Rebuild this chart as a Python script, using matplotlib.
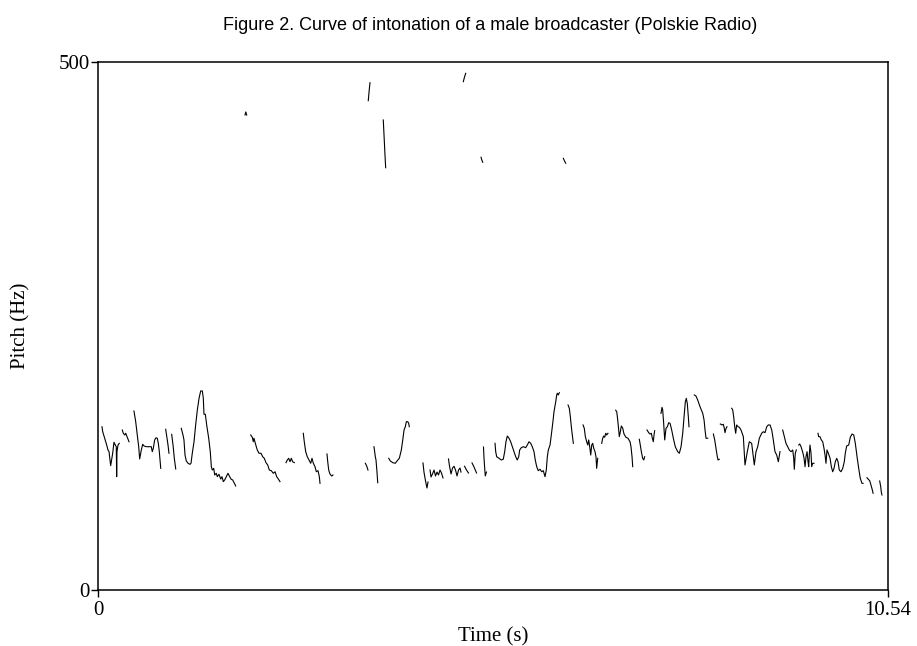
import matplotlib
matplotlib.use("Agg")
import matplotlib.pyplot as plt

plt.rcParams['font.family'] = 'serif'
plt.rcParams['font.serif'] = ['Liberation Serif', 'DejaVu Serif']

T_MAX = 10.54
F_MAX = 500

# pitch track, one pair of lists per voiced stretch (time s, pitch Hz)
t01 = [0.053, 0.063, 0.089, 0.116, 0.133, 0.147, 0.169, 0.196, 0.213, 0.231, 0.244, 0.249, 0.253, 0.267, 0.284]
f01 = [154.6, 149.9, 143.7, 137.3, 132.6, 131.0, 117.7, 129.5, 139.9, 137.3, 135.7, 107.3, 131.0, 137.3, 138.9]
t02 = [0.324, 0.338, 0.356, 0.370, 0.387, 0.414]
f02 = [151.5, 148.4, 146.8, 148.4, 145.2, 140.4]
t03 = [0.480, 0.503, 0.524, 0.543, 0.556, 0.578, 0.596, 0.614, 0.645, 0.690, 0.711, 0.724, 0.738, 0.756, 0.774, 0.791, 0.805, 0.818, 0.837]
f03 = [169.5, 159.4, 146.8, 135.7, 124.1, 132.6, 138.0, 136.4, 135.7, 135.7, 135.7, 131.0, 134.2, 142.1, 144.2, 143.7, 138.9, 131.0, 115.2]
t04 = [0.903, 0.921, 0.934, 0.947]
f04 = [152.2, 143.7, 137.3, 129.5]
t05 = [0.983, 1.001, 1.018, 1.037]
f05 = [147.4, 137.3, 124.7, 114.6]
t06 = [1.111, 1.134, 1.147, 1.161, 1.178, 1.201, 1.227, 1.241, 1.258, 1.281, 1.303, 1.325, 1.348, 1.370, 1.392,
       1.405, 1.414, 1.432, 1.450, 1.477, 1.498, 1.512, 1.525, 1.544, 1.557, 1.578, 1.592, 1.614, 1.637, 1.654,
       1.672, 1.690, 1.712, 1.734, 1.757, 1.778, 1.797, 1.837]
f06 = [153.1, 146.8, 142.1, 127.8, 122.2, 120.0, 119.0, 120.0, 129.5, 140.4, 156.3, 170.3, 181.5, 188.5, 188.5,
       181.5, 166.4, 166.4, 156.3, 143.7, 131.0, 116.8, 113.6, 115.2, 108.9, 110.5, 107.3, 109.6, 105.1, 107.3,
       102.6, 104.2, 107.3, 110.5, 107.3, 104.8, 104.2, 98.5]
t07 = [1.961, 1.972, 1.984]
f07 = [449.8, 452.7, 449.8]
t08 = [2.037, 2.059, 2.072, 2.081, 2.099, 2.125, 2.148, 2.175, 2.197, 2.219, 2.241, 2.264, 2.286, 2.312, 2.339, 2.362, 2.384, 2.406, 2.428]
f08 = [146.8, 144.6, 140.4, 143.7, 138.9, 132.6, 129.5, 129.5, 126.2, 124.7, 120.6, 118.4, 113.6, 113.0, 110.5, 112.0, 107.3, 105.1, 102.6]
t09 = [2.508, 2.526, 2.544, 2.562, 2.579, 2.597, 2.619]
f09 = [120.6, 123.1, 124.7, 121.5, 124.7, 121.5, 120.6]
t10 = [2.739, 2.752, 2.771, 2.792, 2.815, 2.838, 2.855, 2.873, 2.895, 2.913, 2.935, 2.953, 2.962]
f10 = [148.4, 140.4, 131.0, 126.2, 123.1, 120.0, 124.7, 120.0, 116.8, 112.0, 113.0, 107.3, 101.0]
t11 = [3.055, 3.065, 3.078, 3.095, 3.118, 3.135]
f11 = [128.8, 121.5, 113.6, 109.8, 107.9, 108.9]
t12 = [3.567, 3.585, 3.602]
f12 = [120.0, 117.4, 113.6]
t13 = [3.606, 3.616, 3.629]
f13 = [463.4, 471.6, 480.4]
t14 = [3.682, 3.691, 3.700, 3.709, 3.722, 3.732]
f14 = [135.7, 131.0, 126.2, 123.1, 112.0, 101.6]
t15 = [3.806, 3.816, 3.829, 3.838]
f15 = [445.1, 430.9, 411.9, 399.9]
t16 = [3.879, 3.900, 3.932, 3.967, 3.993, 4.020, 4.047, 4.066, 4.083, 4.100, 4.114, 4.132, 4.145, 4.153]
f16 = [124.7, 122.2, 120.6, 120.0, 122.5, 124.7, 132.6, 142.1, 151.5, 154.6, 159.4, 159.4, 157.9, 154.6]
t17 = [4.336, 4.349, 4.370, 4.389, 4.403]
f17 = [120.3, 111.7, 103.2, 96.6, 102.3]
t18 = [4.430, 4.443, 4.463, 4.483, 4.503, 4.523, 4.543, 4.563, 4.583, 4.603]
f18 = [113.6, 107.0, 109.9, 113.6, 108.0, 111.7, 108.9, 113.6, 110.8, 106.1]
t19 = [4.676, 4.690, 4.710, 4.730, 4.750, 4.770, 4.790, 4.810, 4.830, 4.843]
f19 = [124.1, 117.2, 109.9, 115.5, 117.2, 113.6, 108.0, 113.6, 115.5, 111.7]
t20 = [4.874, 4.890, 4.906]
f20 = [481.4, 485.8, 489.3]
t21 = [4.890, 4.917, 4.943]
f21 = [117.2, 113.6, 110.8]
t22 = [4.990, 5.016, 5.050]
f22 = [120.3, 116.6, 110.8]
t23 = [5.110, 5.121, 5.133]
f23 = [409.8, 407.2, 405.0]
t24 = [5.143, 5.150, 5.159, 5.167, 5.183]
f24 = [135.4, 125.0, 115.5, 108.0, 111.7]
t25 = [5.297, 5.306, 5.319, 5.350, 5.381, 5.407, 5.426, 5.443, 5.461, 5.484, 5.506, 5.528, 5.550, 5.573, 5.594,
       5.613, 5.626, 5.648, 5.674, 5.706, 5.728, 5.750, 5.773, 5.794, 5.817, 5.834, 5.853, 5.874, 5.897, 5.920,
       5.941, 5.964, 5.981, 5.995, 6.008, 6.031, 6.048, 6.067, 6.084, 6.107, 6.120, 6.128, 6.141, 6.155]
f25 = [138.9, 131.0, 126.2, 124.7, 123.1, 123.8, 131.0, 140.4, 145.8, 143.7, 140.4, 135.7, 131.0, 126.2, 123.1,
       126.2, 132.6, 134.8, 135.7, 134.8, 137.3, 140.4, 138.9, 135.7, 131.0, 123.1, 116.8, 113.0, 114.3, 112.0,
       113.0, 107.3, 113.6, 126.2, 132.6, 137.3, 146.8, 157.9, 168.9, 178.3, 184.7, 186.3, 184.7, 186.8]
t26 = [6.208, 6.224, 6.240]
f26 = [408.8, 406.3, 404.1]
t27 = [6.271, 6.288, 6.302, 6.315, 6.328, 6.342]
f27 = [175.2, 172.1, 164.1, 154.6, 146.8, 138.9]
t28 = [6.471, 6.488, 6.502, 6.520, 6.534, 6.547, 6.560, 6.574, 6.587, 6.600, 6.614, 6.631, 6.644, 6.653, 6.667]
f28 = [156.3, 153.1, 145.2, 140.4, 137.3, 142.1, 135.7, 127.8, 137.3, 138.9, 134.2, 131.0, 126.2, 115.2, 124.7]
t29 = [6.720, 6.734, 6.747, 6.760, 6.774, 6.787, 6.804]
f29 = [138.9, 143.7, 145.8, 144.6, 148.4, 146.8, 148.4]
t30 = [6.907, 6.921, 6.934, 6.947, 6.955, 6.969, 6.982, 7.000, 7.018, 7.044, 7.071, 7.098, 7.111, 7.125, 7.134]
f30 = [170.3, 168.7, 161.0, 151.5, 145.2, 149.9, 155.3, 153.4, 147.7, 144.6, 143.7, 140.4, 135.7, 126.2, 116.8]
t31 = [7.222, 7.235, 7.249, 7.267, 7.281, 7.294]
f31 = [142.7, 137.3, 131.0, 124.7, 123.1, 126.2]
t32 = [7.325, 7.347, 7.365, 7.382, 7.396, 7.409, 7.418, 7.427]
f32 = [151.5, 149.0, 147.7, 148.4, 143.7, 140.4, 146.8, 150.9]
t33 = [7.511, 7.525, 7.534, 7.547, 7.561, 7.578, 7.596, 7.614, 7.632, 7.654, 7.676, 7.702, 7.734, 7.756, 7.779,
       7.801, 7.823, 7.836, 7.849, 7.862, 7.876, 7.885]
f33 = [167.3, 173.0, 170.5, 157.9, 142.1, 153.1, 154.6, 158.4, 157.9, 151.5, 143.7, 135.7, 131.0, 129.5, 135.7,
       148.4, 167.3, 178.3, 181.5, 176.8, 164.1, 154.6]
t34 = [7.956, 7.978, 8.001, 8.032, 8.068, 8.086, 8.099, 8.112, 8.135]
f34 = [184.7, 183.7, 179.9, 173.6, 167.3, 161.0, 151.5, 143.7, 143.7]
t35 = [8.210, 8.228, 8.245, 8.259, 8.272, 8.289]
f35 = [147.7, 142.1, 134.2, 127.8, 123.1, 123.8]
t36 = [8.303, 8.325, 8.343, 8.356, 8.365, 8.379, 8.392]
f36 = [157.2, 156.3, 156.9, 153.1, 149.0, 153.1, 154.6]
t37 = [8.455, 8.468, 8.481, 8.495, 8.508, 8.521, 8.540, 8.556, 8.579, 8.610, 8.632, 8.663, 8.690, 8.721, 8.743,
       8.756, 8.779, 8.802, 8.823, 8.855, 8.876, 8.899, 8.922, 8.943, 8.966, 8.989, 9.010, 9.032, 9.055, 9.077, 9.099]
f37 = [172.1, 170.5, 164.1, 154.6, 148.4, 156.3, 154.6, 154.1, 151.5, 145.2, 118.4, 131.0, 140.4, 138.9, 126.2,
       118.4, 131.0, 135.7, 143.7, 148.4, 149.9, 149.0, 154.6, 156.3, 156.3, 151.5, 142.1, 131.0, 127.8, 121.5, 131.0]
t38 = [9.135, 9.157, 9.179, 9.202, 9.223, 9.246, 9.269, 9.282, 9.290, 9.303, 9.317]
f38 = [151.5, 145.2, 138.9, 135.7, 132.6, 131.0, 132.6, 124.7, 114.3, 129.5, 132.6]
t39 = [9.349, 9.362, 9.380, 9.393, 9.406, 9.420, 9.433, 9.446, 9.460, 9.473, 9.482, 9.490, 9.499, 9.513, 9.522, 9.535, 9.553]
f39 = [137.3, 138.3, 135.7, 132.6, 129.5, 124.7, 116.8, 126.2, 131.0, 121.5, 116.8, 127.8, 137.3, 129.5, 116.8, 120.0, 120.0]
t40 = [9.606, 9.615, 9.633, 9.650, 9.669, 9.686, 9.700, 9.713, 9.726, 9.744, 9.767, 9.784, 9.802, 9.820, 9.837,
       9.856, 9.873, 9.890, 9.913, 9.936, 9.957, 9.970, 9.989, 10.016, 10.037, 10.060, 10.083, 10.104, 10.127,
       10.149, 10.170, 10.193, 10.207]
f40 = [148.4, 145.2, 145.2, 142.1, 140.4, 134.2, 127.8, 120.0, 132.6, 129.5, 124.7, 116.8, 112.0, 115.2, 121.5,
       124.7, 121.5, 113.6, 112.0, 115.2, 121.5, 129.5, 136.4, 137.3, 144.6, 147.7, 146.8, 138.9, 126.2, 115.2,
       105.8, 101.0, 101.0]
t41 = [10.260, 10.278, 10.296, 10.313, 10.331, 10.341]
f41 = [106.3, 104.8, 103.5, 99.4, 94.7, 91.6]
t42 = [10.429, 10.443, 10.450, 10.459]
f42 = [103.2, 97.8, 93.1, 90.0]

segments = [(t01, f01), (t02, f02), (t03, f03), (t04, f04), (t05, f05), (t06, f06), (t07, f07),
            (t08, f08), (t09, f09), (t10, f10), (t11, f11), (t12, f12), (t13, f13), (t14, f14),
            (t15, f15), (t16, f16), (t17, f17), (t18, f18), (t19, f19), (t20, f20), (t21, f21),
            (t22, f22), (t23, f23), (t24, f24), (t25, f25), (t26, f26), (t27, f27), (t28, f28),
            (t29, f29), (t30, f30), (t31, f31), (t32, f32), (t33, f33), (t34, f34), (t35, f35),
            (t36, f36), (t37, f37), (t38, f38), (t39, f39), (t40, f40), (t41, f41), (t42, f42)]

fig = plt.figure(figsize=(9.17, 6.46), dpi=100)
ax = fig.add_axes([98/917, 1 - 590/646, 790/917, 528/646])

for t, f in segments:
    ax.plot(t, f, color='black', linewidth=0.8)

ax.set_xlim(0, T_MAX)
ax.set_ylim(0, F_MAX)
ax.set_xticks([0, T_MAX])
ax.set_xticklabels(['0', '10.54'])
ax.set_yticks([0, F_MAX])
ax.set_yticklabels(['0', '500'])
ax.tick_params(direction='out', length=5, width=1, labelsize=15, pad=1)
ax.tick_params(axis='x', pad=3)
for sp in ax.spines.values():
    sp.set_linewidth(1.1)

ax.set_xlabel('Time (s)', fontsize=15)
ax.set_ylabel('Pitch (Hz)', fontsize=15)
ax.xaxis.set_label_coords(0.5, -0.07)
ax.yaxis.set_label_coords(-0.085, 0.5)

fig.text(490/917, 1 - 25/646, 'Figure 2. Curve of intonation of a male broadcaster (Polskie Radio)',
         ha='center', va='center', fontsize=13, family='Liberation Sans')

fig.savefig('out.png', dpi=100)
